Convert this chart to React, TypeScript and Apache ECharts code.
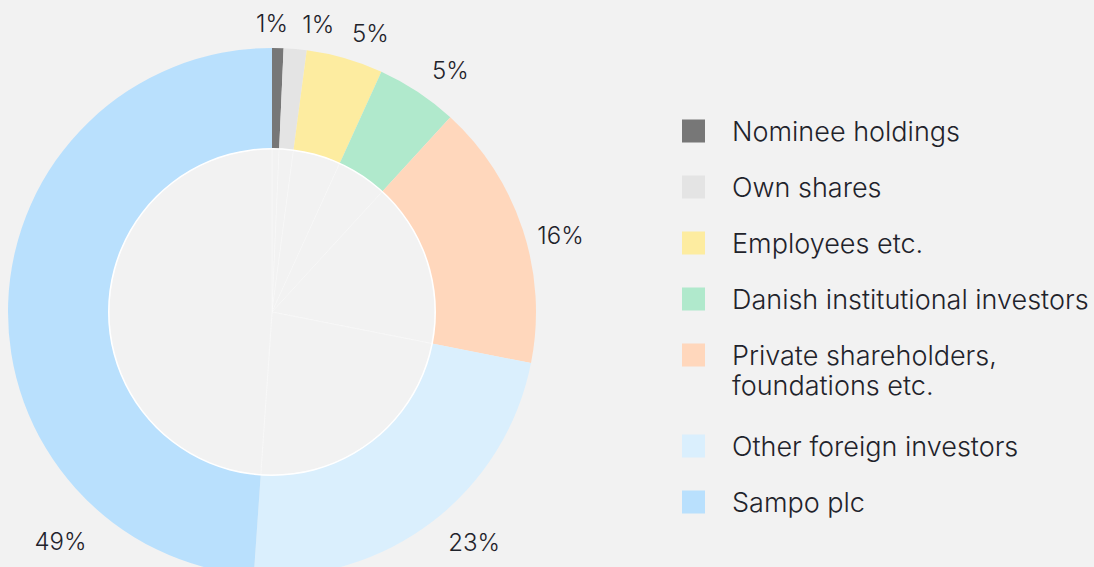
import React, { useEffect, useRef } from "react";
import * as echarts from "echarts";

const categories = [
  "Nominee holdings",
  "Own shares",
  "Employees etc.",
  "Danish institutional investors",
  "Private shareholders,\nfoundations etc.",
  "Other foreign investors",
  "Sampo plc",
];
const shares = [0.7, 1.4, 4.7, 5.0, 16.3, 23.0, 48.9];
const colors = ["#777777", "#e4e4e4", "#fdeca0", "#b0e9cc", "#ffd7bc", "#daeffd", "#b9e0fd"];

const CX = 272;
const CY = 312;
const R_OUT = 264;
const R_IN = 163;
const FONT = "Inter, 'DM Sans', sans-serif";
const TEXT = "#1f232b";

export default function App() {
  const ref = useRef<HTMLDivElement>(null);
  useEffect(() => {
    const chart = echarts.init(ref.current!, null, { renderer: "svg" });
    const total = shares.reduce((a, b) => a + b, 0);
    let cum = 0;
    const mids = shares.map((v) => {
      const m = ((cum + v / 2) / total) * 360;
      cum += v;
      return m;
    });
    const overrides: Record<number, { angle: number; r: number; align?: string }> = {
      0: { angle: 0, r: 289, align: "center" },
      1: { angle: 6, r: 289 },
      4: { angle: 74, r: 276 },
      6: { angle: 222.7, r: 312, align: "center" },
    };
    const data = categories.map((name, i) => ({ name, value: shares[i], itemStyle: { color: colors[i] } }));
    const legendBase = {
      orient: "vertical",
      left: 682,
      padding: 0,
      itemGap: 26,
      itemWidth: 23,
      itemHeight: 23,
      icon: "rect",
      selectedMode: false,
      textStyle: {
        fontSize: 27,
        fontWeight: 300,
        lineHeight: 30,
        color: TEXT,
        fontFamily: FONT,
        padding: [0, 0, 0, 22],
      },
    };
    chart.setOption({
      animation: false,
      backgroundColor: "#f2f2f2",
      legend: [
        { ...legendBase, top: 116, data: categories.slice(0, 4) },
        {
          ...legendBase,
          top: 310,
          data: [categories[4]],
          formatter: (name: string) => "\n" + name,
        },
        { ...legendBase, top: 431, data: categories.slice(5) },
      ],
      series: [
        {
          type: "pie",
          center: [CX, CY],
          radius: [R_IN, R_OUT],
          startAngle: 90,
          clockwise: true,
          avoidLabelOverlap: false,
          silent: true,
          data,
          label: {
            show: true,
            position: "outside",
            formatter: (p: any) => Math.round(p.value) + "%",
            fontSize: 24,
            fontWeight: 300,
            color: TEXT,
            fontFamily: FONT,
          },
          labelLine: { show: false },
          labelLayout: (params: any) => {
            const i = params.dataIndex;
            const o = overrides[i];
            const a = o ? o.angle : mids[i];
            const r = o ? o.r : 290;
            const rad = (a * Math.PI) / 180;
            const align = o && o.align ? o.align : a < 3 ? "center" : a < 180 ? "left" : "right";
            return { x: CX + r * Math.sin(rad), y: CY - r * Math.cos(rad), align, verticalAlign: "middle" };
          },
        },
        {
          type: "pie",
          center: [CX, CY],
          radius: [0, R_IN],
          startAngle: 90,
          silent: true,
          data: categories.map((name, i) => ({ name, value: shares[i] })),
          itemStyle: { color: "#f2f2f2", borderColor: "rgba(255,255,255,0.3)", borderWidth: 1 },
          label: { show: false },
          labelLine: { show: false },
        },
        {
          type: "pie",
          center: [CX, CY],
          radius: [R_IN - 0.5, R_IN + 1],
          silent: true,
          data: [{ value: 1, name: "" }],
          itemStyle: { color: "#ffffff" },
          label: { show: false },
          labelLine: { show: false },
        },
      ],
    });
    return () => chart.dispose();
  }, []);
  return (
    <div
      ref={ref}
      style={{ position: "fixed", left: 0, top: 0, width: 1094, height: 567, background: "#f2f2f2" }}
    />
  );
}
